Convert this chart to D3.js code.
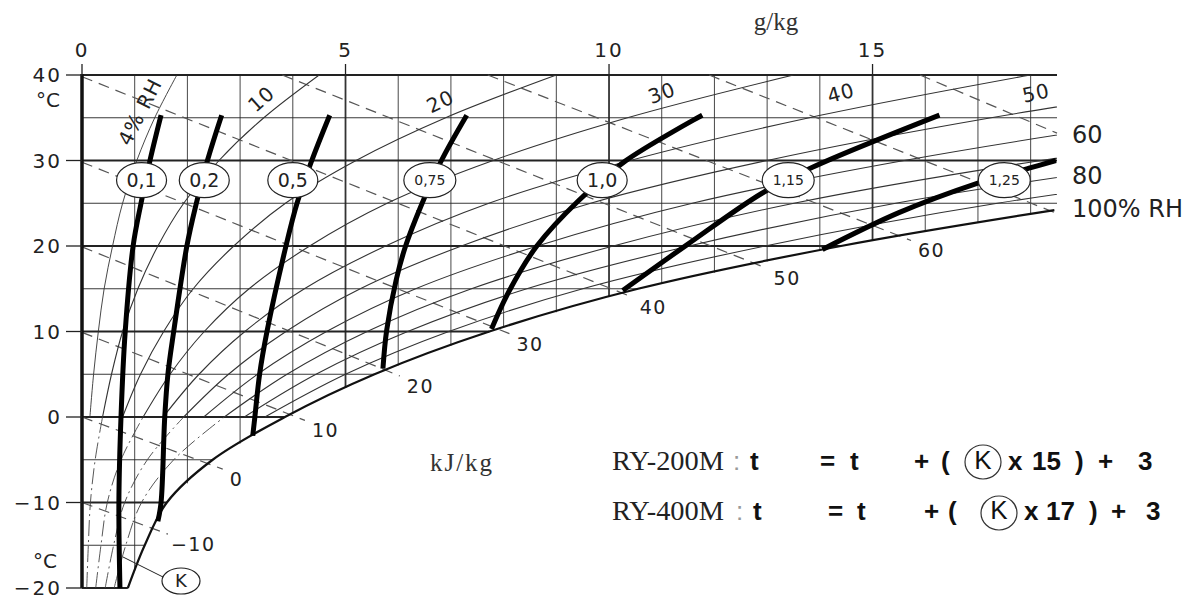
<!DOCTYPE html>
<html>
<head>
<meta charset="utf-8">
<script src="https://cdn.jsdelivr.net/npm/d3@7"></script>
<style>
  body { margin: 0; background: #fff; }
  svg { display: block; }
  .num { font-family: "DejaVu Sans", sans-serif; fill: #222; }
</style>
</head>
<body>
<svg id="chart" width="1204" height="599"></svg>
<script>
// ---- values ----
// saturation (100% RH) curve: temperature °C and moisture g/kg
const satT = [-20, -15, -10, -5, 0, 5, 10, 15, 20, 24.2];
const satW = [0.87, 1.19, 1.61, 2.48, 3.85, 5.55, 7.73, 10.55, 14.4, 18.45];

// relative humidity curves, moisture (g/kg) at each temperature of rhTemps
const rhTemps = [-20, -15, -10, -5, 0, 5, 10, 15, 20, 25, 30, 35, 40];
const rh4  = [0.03, 0.05, 0.06, 0.10, 0.15, 0.22, 0.31, 0.42, 0.58, 0.77, 1.04, 1.38, 1.80];
const rh10 = [0.09, 0.12, 0.16, 0.25, 0.39, 0.56, 0.77, 1.06, 1.44, 1.93, 2.60, 3.45, 4.50];
const rh20 = [0.17, 0.24, 0.32, 0.50, 0.77, 1.11, 1.55, 2.11, 2.88, 3.86, 5.20, 6.90, 9.00];
const rh30 = [0.26, 0.36, 0.48, 0.74, 1.16, 1.67, 2.32, 3.17, 4.32, 5.79, 7.80, 10.35, 13.50];
const rh40 = [0.35, 0.48, 0.64, 0.99, 1.54, 2.22, 3.09, 4.22, 5.76, 7.72, 10.40, 13.80, 18.00];
const rh50 = [0.44, 0.60, 0.81, 1.24, 1.93, 2.78, 3.87, 5.28, 7.20, 9.65, 13.00, 17.25, 22.50];
const rh60 = [0.52, 0.71, 0.97, 1.49, 2.31, 3.33, 4.64, 6.33, 8.64, 11.58, 15.60, 20.70, 27.00];
const rh70 = [0.61, 0.83, 1.13, 1.74, 2.70, 3.89, 5.41, 7.39, 10.08, 13.51, 18.20, 24.15, 31.50];
const rh80 = [0.70, 0.95, 1.29, 1.98, 3.08, 4.44, 6.18, 8.44, 11.52, 15.44, 20.80, 27.60, 36.00];
const rh90 = [0.78, 1.07, 1.45, 2.23, 3.47, 5.00, 6.96, 9.50, 12.96, 17.37, 23.40, 31.05, 40.50];
const rhSeries = [rh4, rh10, rh20, rh30, rh40, rh50, rh60, rh70, rh80, rh90];
// which curves keep a dash-dot part below 0 °C
const rhBelowZero = [false, true, false, true, false, true, false, true, false, false];

// RH labels: text, [g/kg, °C] where they sit, rotation
const rhLabelText = ["4% RH", "10", "20", "30", "40", "50"];
const rhLabelAt = [[1.10, 35.7], [3.40, 37.2], [6.80, 36.9], [11.0, 37.9], [14.4, 37.9], [18.1, 37.9]];
const rhLabelAngle = [-63, -42, -26, -20, -15, -12];
const rhSideText = ["60", "80", "100% RH"];
const rhSideT = [33.0, 28.3, 24.4];

// enthalpy lines (kJ/kg), dashed, start and end as [g/kg, °C]
const hValues = [-10, 0, 10, 20, 30, 40, 50, 60, 70, 80];
const hStart = [[0, -10], [0, 0], [0, 9.9], [0, 19.9], [0, 29.8], [0, 39.8], [3.8, 40], [7.7, 40], [11.9, 40], [15.9, 40]];
const hEnd = [[1.63, -13.7], [2.67, -6.1], [4.23, -0.4], [6.03, 4.8], [8.11, 9.75], [10.45, 14.0], [12.99, 17.4], [15.73, 20.65], [18.5, 23.8], [18.5, 33.2]];
const hLabelled = [true, true, true, true, true, true, true, true, false, false];

// K factor curves, [g/kg, °C]
const kNames = ["0,1", "0,2", "0,5", "0,75", "1,0", "1,15", "1,25"];
const k01 = [[0.72, -20], [0.70, -10], [0.74, 0], [0.82, 10], [0.97, 20], [1.12, 25], [1.29, 30], [1.50, 35.3]];
const k02 = [[1.44, -12.2], [1.50, -10], [1.57, 0], [1.63, 5], [1.74, 10], [1.99, 20], [2.17, 25], [2.38, 30], [2.65, 35.3]];
const k05 = [[3.24, -2.2], [3.28, 0], [3.37, 5], [3.51, 10], [3.87, 20], [4.08, 25], [4.36, 30], [4.70, 35.3]];
const k075 = [[5.71, 5.65], [5.78, 10.1], [5.96, 16.0], [6.14, 20.0], [6.44, 24.8], [6.82, 30.0], [7.30, 35.3]];
const k10 = [[7.77, 10.3], [8.11, 14.8], [8.63, 20.0], [9.42, 25.3], [10.30, 29.9], [11.77, 35.3]];
const k115 = [[10.26, 14.8], [11.47, 20.1], [12.91, 26.2], [13.86, 29.2], [16.27, 35.3]];
const k125 = [[14.05, 19.6], [15.5, 23.9], [16.97, 27.3], [17.97, 29.1], [18.48, 30.0]];
const kCurves = [k01, k02, k05, k075, k10, k115, k125];
const kLabelW = [1.13, 2.32, 4.0, 6.6, 9.87, 13.4, 17.5];
const kLabelT = 27.7;

const tTicks = [40, 30, 20, 10, 0, -10, -20];
const wTicks = [0, 5, 10, 15];

// ---- drawing ----
const svg = d3.select("#chart");
const x = d3.scaleLinear().domain([0, 18.5]).range([82, 1057]);
const y = d3.scaleLinear().domain([-20, 40]).range([588, 75]);
const satTofW = d3.scaleLinear().domain(satW).range(satT).clamp(true);
const satWofT = d3.scaleLinear().domain(satT).range(satW);

svg.append("defs").append("clipPath").attr("id", "area")
  .append("rect").attr("x", x(0)).attr("y", y(40)).attr("width", x(18.5) - x(0)).attr("height", y(-20) - y(40));

const line = d3.line().x(d => x(d[0])).y(d => y(d[1])).curve(d3.curveCatmullRom.alpha(0.5));

// grid: verticals every g/kg down to the saturation curve
const grid = svg.append("g");
d3.range(1, 19).forEach(w => {
  const tb = w < satW[0] ? -20 : satTofW(w);
  grid.append("line")
    .attr("x1", x(w)).attr("x2", x(w))
    .attr("y1", y(40)).attr("y2", y(tb))
    .attr("stroke", "#333")
    .attr("stroke-width", w % 5 === 0 ? 1.8 : 0.9);
});
// horizontals every 5 °C from axis to saturation curve
d3.range(-20, 41, 5).forEach(t => {
  const we = t >= 24.2 ? 18.5 : satWofT(t);
  grid.append("line")
    .attr("x1", x(0)).attr("x2", x(we))
    .attr("y1", y(t)).attr("y2", y(t))
    .attr("stroke", "#222")
    .attr("stroke-width", t === 40 ? 2.2 : (t % 10 === 0 ? 1.8 : 0.9));
});

// enthalpy dashed lines
const hG = svg.append("g");
hValues.forEach((h, i) => {
  hG.append("line")
    .attr("x1", x(hStart[i][0])).attr("y1", y(hStart[i][1]))
    .attr("x2", x(hEnd[i][0])).attr("y2", y(hEnd[i][1]))
    .attr("stroke", "#555").attr("stroke-width", 1.2)
    .attr("stroke-dasharray", "11,7");
  if (hLabelled[i]) {
    hG.append("text").attr("class", "num")
      .attr("x", x(hEnd[i][0]) + (h < 0 ? 3 : 7))
      .attr("y", y(hEnd[i][1]) + 17)
      .attr("font-size", 19).attr("letter-spacing", 1.5)
      .text(h < 0 ? "\u2212" + Math.abs(h) : h);
  }
});

// relative humidity curves
const rhG = svg.append("g").attr("clip-path", "url(#area)");
rhSeries.forEach((s, i) => {
  const pts = rhTemps.map((t, j) => [s[j], t]);
  rhG.append("path").datum(pts.filter(p => p[1] >= 0))
    .attr("d", line).attr("fill", "none")
    .attr("stroke", "#333").attr("stroke-width", i === 0 ? 0.9 : 1.1);
  if (rhBelowZero[i]) {
    rhG.append("path").datum(pts.filter(p => p[1] <= 0))
      .attr("d", line).attr("fill", "none")
      .attr("stroke", "#444").attr("stroke-width", 0.9)
      .attr("stroke-dasharray", "16,4,2,4");
  }
});

rhLabelText.forEach((txt, i) => {
  const px = x(rhLabelAt[i][0]), py = y(rhLabelAt[i][1]);
  svg.append("text").attr("class", "num")
    .attr("transform", `translate(${px},${py}) rotate(${rhLabelAngle[i]})`)
    .attr("text-anchor", "middle").attr("dy", "0.35em")
    .attr("font-size", 20).attr("letter-spacing", 1)
    .text(txt);
});
rhSideText.forEach((txt, i) => {
  svg.append("text").attr("class", "num")
    .attr("x", 1072).attr("y", y(rhSideT[i])).attr("dy", "0.36em")
    .attr("font-size", 24)
    .text(txt);
});

// saturation curve
svg.append("path")
  .datum(satT.map((t, i) => [satW[i], t]))
  .attr("d", line).attr("fill", "none")
  .attr("stroke", "#111").attr("stroke-width", 2.2);

// axes
svg.append("line").attr("x1", x(0)).attr("x2", x(0)).attr("y1", y(40) - 1).attr("y2", y(-20))
  .attr("stroke", "#111").attr("stroke-width", 3.5);
tTicks.forEach(t => {
  svg.append("line").attr("x1", 66).attr("x2", x(0)).attr("y1", y(t)).attr("y2", y(t))
    .attr("stroke", "#222").attr("stroke-width", 1.3);
  svg.append("text").attr("class", "num")
    .attr("x", 62).attr("y", y(t)).attr("dy", "0.36em")
    .attr("text-anchor", "end").attr("font-size", 20).attr("letter-spacing", 2)
    .text(t < 0 ? "\u2212" + Math.abs(t) : t);
});
svg.append("text").attr("class", "num").attr("x", 48).attr("y", 100).attr("dy", "0.36em")
  .attr("text-anchor", "middle").attr("font-size", 20).text("°C");
svg.append("text").attr("class", "num").attr("x", 45).attr("y", 561).attr("dy", "0.36em")
  .attr("text-anchor", "middle").attr("font-size", 20).text("°C");

wTicks.forEach(w => {
  svg.append("line").attr("x1", x(w)).attr("x2", x(w)).attr("y1", 64).attr("y2", y(40))
    .attr("stroke", "#222").attr("stroke-width", 1.3);
  svg.append("text").attr("class", "num")
    .attr("x", x(w)).attr("y", 57)
    .attr("text-anchor", "middle").attr("font-size", 20).attr("letter-spacing", 2)
    .text(w);
});
svg.append("text").attr("x", 776).attr("y", 30).attr("text-anchor", "middle")
  .attr("font-family", "Liberation Serif, serif").attr("font-size", 25).attr("fill", "#333")
  .text("g/kg");
svg.append("text").attr("x", 462).attr("y", 471).attr("text-anchor", "middle")
  .attr("font-family", "Liberation Serif, serif").attr("font-size", 25).attr("fill", "#333")
  .attr("letter-spacing", 2)
  .text("kJ/kg");

// K curves
const kG = svg.append("g").attr("clip-path", "url(#area)");
kCurves.forEach(c => {
  kG.append("path").datum(c).attr("d", line).attr("fill", "none")
    .attr("stroke", "#000").attr("stroke-width", 5).attr("stroke-linecap", "butt");
});
kNames.forEach((n, i) => {
  const cx = x(kLabelW[i]), cy = y(kLabelT);
  const small = n.length > 3;
  svg.append("ellipse").attr("cx", cx).attr("cy", cy)
    .attr("rx", small ? 26 : 25).attr("ry", 17.5)
    .attr("fill", "#fff").attr("stroke", "#222").attr("stroke-width", 1.2);
  svg.append("text").attr("class", "num").attr("x", cx).attr("y", cy).attr("dy", "0.36em")
    .attr("text-anchor", "middle").attr("font-size", small ? 14 : 19)
    .text(n);
});

// K callout at the bottom
svg.append("line").attr("x1", 123).attr("y1", 557).attr("x2", 163).attr("y2", 577)
  .attr("stroke", "#222").attr("stroke-width", 1);
svg.append("ellipse").attr("cx", 181).attr("cy", 581).attr("rx", 19).attr("ry", 13)
  .attr("fill", "#fff").attr("stroke", "#222").attr("stroke-width", 1.2);
svg.append("text").attr("class", "num").attr("x", 181).attr("y", 581).attr("dy", "0.36em")
  .attr("text-anchor", "middle").attr("font-size", 18).text("K");

// formulas
const fLines = [
  { model: "RY-200M", base: 470, pieces: [[":", 733], ["t", 750], ["=", 820], ["t", 850], ["+", 914], ["(", 941], ["x", 1008], ["15", 1032], [")", 1075], ["+", 1098], ["3", 1138]], k: [983, 462] },
  { model: "RY-400M", base: 520, pieces: [[":", 736], ["t", 753], ["=", 828], ["t", 857], ["+", 924], ["(", 948], ["x", 1024], ["17", 1046], [")", 1089], ["+", 1111], ["3", 1146]], k: [999, 513] }
];
fLines.forEach(f => {
  svg.append("text").attr("x", 612).attr("y", f.base)
    .attr("font-family", "Liberation Serif, serif").attr("font-size", 27).attr("fill", "#222")
    .attr("textLength", 112).attr("lengthAdjust", "spacingAndGlyphs")
    .text(f.model);
  f.pieces.forEach(p => {
    svg.append("text").attr("x", p[1]).attr("y", f.base)
      .attr("font-family", "Liberation Sans, Arial, sans-serif")
      .attr("font-size", 26).attr("font-weight", p[0] === ":" ? "normal" : "bold")
      .attr("fill", p[0] === ":" ? "#999" : "#111")
      .text(p[0]);
  });
  svg.append("ellipse").attr("cx", f.k[0]).attr("cy", f.k[1]).attr("rx", 18).attr("ry", 17)
    .attr("fill", "none").attr("stroke", "#333").attr("stroke-width", 1.2);
  svg.append("text").attr("x", f.k[0]).attr("y", f.base - 1).attr("text-anchor", "middle")
    .attr("font-family", "Liberation Sans, Arial, sans-serif").attr("font-size", 26).attr("fill", "#111")
    .text("K");
});
</script>
</body>
</html>
